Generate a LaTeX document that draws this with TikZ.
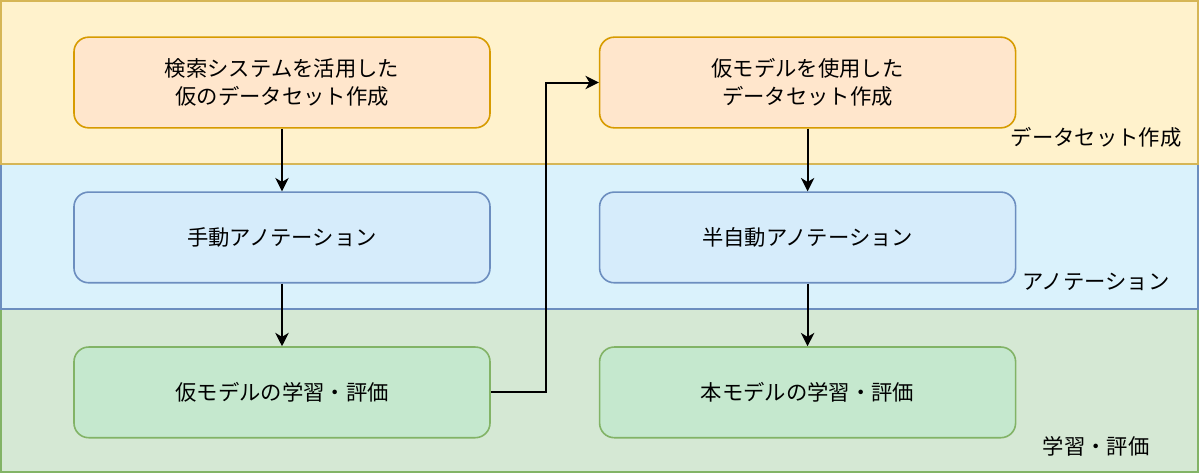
\documentclass[tikz,border=0pt]{standalone}
\usepackage{fontspec}
\setmainfont{Noto Sans CJK JP}
\usetikzlibrary{arrows.meta,positioning}
\usepackage{color}

\definecolor{dsfill}{HTML}{FFF2CC}
\definecolor{dsline}{HTML}{D6B656}
\definecolor{dsboxfill}{HTML}{FFE6CC}
\definecolor{dsboxline}{HTML}{D79B00}
\definecolor{annfill}{HTML}{DAF2FC}
\definecolor{annline}{HTML}{6C8EBF}
\definecolor{annboxfill}{HTML}{D6ECFB}
\definecolor{trfill}{HTML}{D5E8D4}
\definecolor{trline}{HTML}{82B366}
\definecolor{trboxfill}{HTML}{C5E8CE}

\begin{document}
\begin{tikzpicture}[x=0.75pt,y=-0.75pt]
\useasboundingbox (0,0) rectangle (1200,475);

% bands
\draw [draw=trline, fill=trfill, line width=1.2pt] (1,309) rectangle (1198,472);
\draw [draw=annline, fill=annfill, line width=1.2pt] (1,164) rectangle (1198,309);
\draw [draw=dsline, fill=dsfill, line width=1.2pt] (1,1) rectangle (1198,164);

\node (dslabel) at (1096,137) {\fontsize{16}{21}\selectfont データセット作成};
\node (annlabel) at (1096,282) {\fontsize{16}{21}\selectfont アノテーション};
\node (trlabel) at (1096,446) {\fontsize{16}{21}\selectfont 学習・評価};

\begin{scope}[every node/.style={rectangle, rounded corners=11pt, line width=1.2pt,
  minimum width=312pt, minimum height=68pt, align=center,
  font=\fontsize{16}{21}\selectfont}]
\node [draw=dsboxline, fill=dsboxfill] (dsA) at (282,82.5) {検索システムを活用した\\仮のデータセット作成};
\node [draw=annline, fill=annboxfill] (annA) [below=47pt of dsA] {手動アノテーション};
\node [draw=trline, fill=trboxfill] (trA) [below=47pt of annA] {仮モデルの学習・評価};
\node [draw=dsboxline, fill=dsboxfill] (dsB) [right=81pt of dsA] {仮モデルを使用した\\データセット作成};
\node [draw=annline, fill=annboxfill] (annB) [below=47pt of dsB] {半自動アノテーション};
\node [draw=trline, fill=trboxfill] (trB) [below=47pt of annB] {本モデルの学習・評価};
\end{scope}

\begin{scope}[>={Stealth[black, length=10pt, width=10pt, inset=3pt]}]

\draw [->, line width=1.5pt] (dsA.south) -- (annA.north);
\draw [->, line width=1.5pt] (annA.south) -- (trA.north);
\draw [->, line width=1.5pt] (trA.east) -- ++(55,0) |- (dsB.west);
\draw [->, line width=1.5pt] (dsB.south) -- (annB.north);
\draw [->, line width=1.5pt] (annB.south) -- (trB.north);

\end{scope}
\end{tikzpicture}
\end{document}
